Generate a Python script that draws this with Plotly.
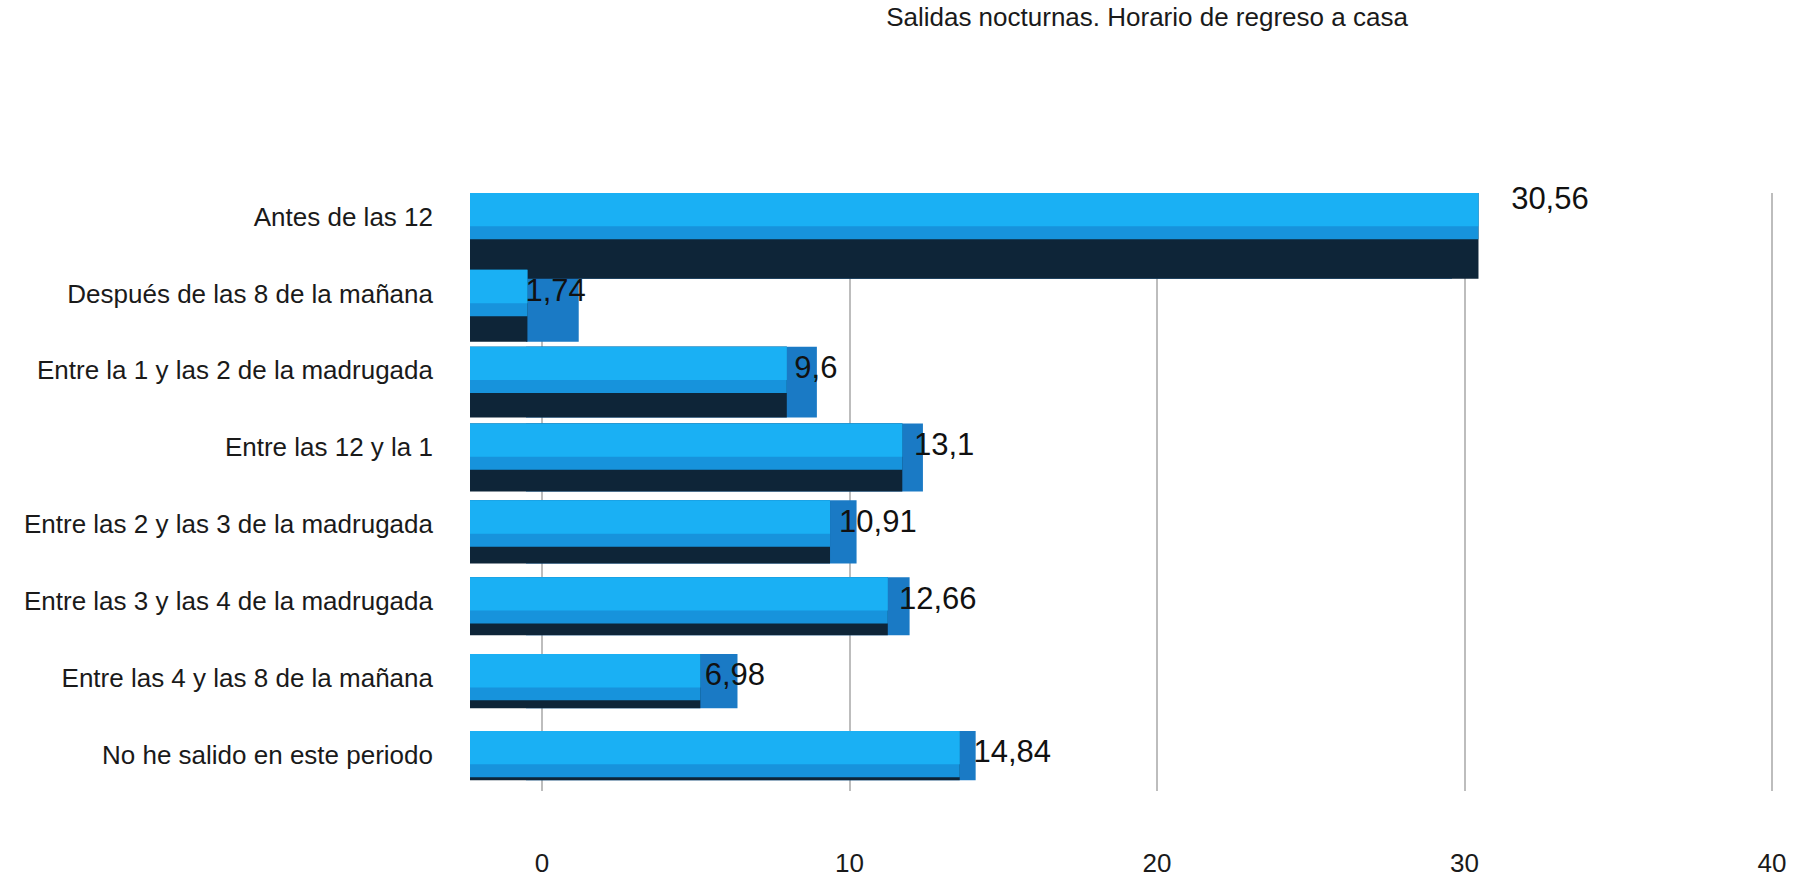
import plotly.graph_objects as go

# ---- data -------------------------------------------------------------
categories = [
    "Antes de las 12",
    "Después de las 8 de la mañana",
    "Entre la 1 y las 2 de la madrugada",
    "Entre las 12 y la 1",
    "Entre las 2 y las 3 de la madrugada",
    "Entre las 3 y las 4 de la madrugada",
    "Entre las 4 y las 8 de la mañana",
    "No he salido en este periodo",
]
values = [30.56, 1.74, 9.6, 13.1, 10.91, 12.66, 6.98, 14.84]
x_ticks = [0, 10, 20, 30, 40]

title_text = "Salidas nocturnas. Horario de regreso a casa"
value_labels = [f"{v:g}".replace(".", ",") for v in values]

# ---- geometry / style -------------------------------------------------
W, H = 1804, 882
PLOT_L, PLOT_W = 440, 1360
PLOT_T, PLOT_B = 193, 82
PLOT_H = H - PLOT_T - PLOT_B

ROW_PX = 78.0          # spacing between category rows
FIRST_ROW_PX = 217     # centre of the first row, from the top of the page
FACE_TOP_PX = -24      # top of the front face relative to the row centre
FACE_PX = 47           # height of the front face
UNDERSIDE_PX = [40, 26, 25, 22, 17, 12, 8, 3]   # visible underside per bar (perspective)
LABEL_POS = ["top right"] + ["middle right"] * (len(values) - 1)

FONT = "Liberation Sans, Arial, Helvetica, sans-serif"
FRONT = "#1793dc"
FRONT_HI = "#1ab0f4"
UNDER = "#0e2538"
SIDE = "#1a7ac5"
GRID = "#bdbdbd"


def x_range(zero_px, px_per_unit):
    """Axis range that puts value 0 at zero_px (page pixels) with the given scale."""
    return [(PLOT_L - zero_px) / px_per_unit, (PLOT_L + PLOT_W - zero_px) / px_per_unit]


top_val = -(FIRST_ROW_PX - PLOT_T) / ROW_PX
y_range = [top_val + PLOT_H / ROW_PX, top_val]

face_offset = FACE_TOP_PX / ROW_PX
face_width = FACE_PX / ROW_PX
block_width = [(FACE_PX + d) / ROW_PX for d in UNDERSIDE_PX]

fig = go.Figure()

# back plane: right-hand side faces of the blocks
fig.add_trace(go.Bar(
    y=categories, x=values, orientation="h", xaxis="x", yaxis="y",
    offset=face_offset, width=block_width,
    marker=dict(color=SIDE, line=dict(width=0)),
    hoverinfo="skip", showlegend=False,
))

# front plane: underside, front face and its upper highlight
fig.add_trace(go.Bar(
    y=categories, x=values, orientation="h", xaxis="x2", yaxis="y",
    offset=face_offset, width=block_width,
    marker=dict(color=UNDER, line=dict(width=0)),
    hoverinfo="skip", showlegend=False,
))
fig.add_trace(go.Bar(
    y=categories, x=values, orientation="h", xaxis="x2", yaxis="y",
    offset=face_offset, width=face_width,
    marker=dict(color=FRONT, line=dict(width=0)),
    name="", showlegend=False,
))
fig.add_trace(go.Bar(
    y=categories, x=values, orientation="h", xaxis="x2", yaxis="y",
    offset=face_offset, width=face_width * 0.72,
    marker=dict(color=FRONT_HI, line=dict(width=0)),
    hoverinfo="skip", showlegend=False,
))

# value labels, placed just past the nearest corner of each block
fig.add_trace(go.Scatter(
    y=categories, x=values, xaxis="x4", yaxis="y",
    mode="text", text=value_labels, textposition=LABEL_POS,
    textfont=dict(family=FONT, size=31, color="#111111"),
    cliponaxis=False, hoverinfo="skip", showlegend=False,
))

# value axis with the gridlines (carries no marks of its own)
fig.add_trace(go.Scatter(
    x=[], y=[], xaxis="x3", yaxis="y", mode="markers",
    hoverinfo="skip", showlegend=False,
))

fig.update_layout(
    width=W, height=H,
    margin=dict(l=PLOT_L, r=W - PLOT_L - PLOT_W, t=PLOT_T, b=PLOT_B, pad=0),
    paper_bgcolor="white", plot_bgcolor="white",
    barmode="overlay",
    font=dict(family=FONT, size=26, color="#1a1a1a"),
    title=dict(
        text=title_text, xref="container", yref="container",
        x=1147 / W, xanchor="center", y=1 - 17 / H, yanchor="middle",
        font=dict(family=FONT, size=26, color="#1a1a1a"),
    ),
    # back plane, front plane and label plane of the perspective blocks
    xaxis=dict(range=x_range(526, 30.3), visible=False, fixedrange=True),
    xaxis2=dict(range=x_range(470, 33.0), overlaying="x", anchor="y",
                visible=False, fixedrange=True),
    xaxis4=dict(range=x_range(466, 34.2), overlaying="x", anchor="y",
                visible=False, fixedrange=True),
    xaxis3=dict(
        range=x_range(542, 30.75), overlaying="x", anchor="y", side="bottom",
        tickvals=x_ticks, ticktext=[str(t) for t in x_ticks],
        showgrid=True, gridcolor=GRID, gridwidth=1.5,
        zeroline=False, showline=False, ticks="",
        ticklabelstandoff=54,
        tickfont=dict(family=FONT, size=26, color="#1a1a1a"),
        fixedrange=True,
    ),
    yaxis=dict(
        type="category", categoryorder="array", categoryarray=categories,
        range=y_range, autorange=False,
        showgrid=False, zeroline=False, showline=False, ticks="",
        ticklabelstandoff=6,
        tickfont=dict(family=FONT, size=26, color="#1a1a1a"),
        fixedrange=True,
    ),
)

fig.write_html("out.html")
